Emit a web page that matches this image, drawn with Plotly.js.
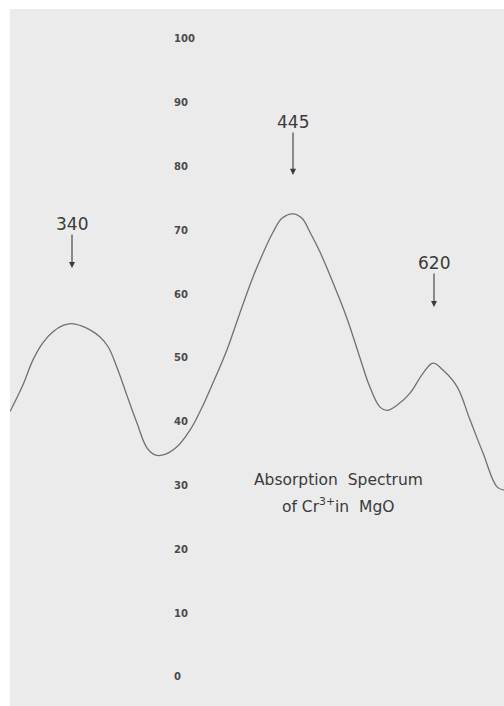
<!DOCTYPE html>
<html>
<head>
<meta charset="utf-8">
<script src="https://cdn.plot.ly/plotly-3.0.1.min.js"></script>
<style>
  html, body { margin: 0; padding: 0; background: #ffffff; }
  #chart { width: 504px; height: 706px; }
</style>
</head>
<body>
<div id="chart"></div>
<script>
// Chart-paper position (arbitrary recorder units) and absorption reading (%)
const chartPos = [10, 23, 33, 43, 53, 63, 72, 80, 90, 100, 108, 117, 127, 137, 147, 155, 163, 177, 190, 200,
                  213, 227, 240, 253, 263, 273, 282, 293, 302, 310, 320, 333, 347, 360, 370, 380, 387, 397,
                  410, 423, 433, 443, 457, 470, 483, 497, 504];
const absorption = [41.6, 45.8, 49.7, 52.4, 54.1, 55.1, 55.4, 55.1, 54.4, 53.3, 51.8, 48.5, 44.1, 39.8, 35.9, 34.8, 34.8, 36.1, 38.7, 41.6,
                    46.1, 51.3, 57.1, 62.7, 66.4, 69.7, 71.9, 72.6, 71.9, 69.7, 66.6, 61.8, 56.2, 50.0, 45.4, 42.3, 41.8, 42.6,
                    44.5, 47.6, 49.2, 48.1, 45.5, 40.3, 35.1, 29.8, 29.3];

// Peak markers (wavelengths in nm)
const peakLabels = ['340', '445', '620'];
const peakPos = [72, 293, 434];
const peakArrowTip = [64.1, 78.7, 58.0];

// Y-axis tick labels
const yTicks = [0, 10, 20, 30, 40, 50, 60, 70, 80, 90, 100];

const inkColor = '#3a3a3a';
const labelLift = [-44, -53, -44];   // pixel offset of each peak label above its arrow tip
const trace = {
  x: chartPos, y: absorption, type: 'scatter', mode: 'lines',
  line: { color: '#707070', width: 1.3, shape: 'spline', smoothing: 1.1 },
  hoverinfo: 'skip', showlegend: false
};

const annotations = [];
peakLabels.forEach((lab, i) => {
  annotations.push({
    x: peakPos[i], y: peakArrowTip[i], xref: 'x', yref: 'y', text: lab,
    showarrow: true, ax: 0, ay: labelLift[i], standoff: 0, borderpad: 0,
    arrowhead: 2, arrowsize: 1.1, arrowwidth: 1.1, arrowcolor: inkColor,
    font: { family: 'DejaVu Sans', size: 17, color: inkColor }
  });
});
annotations.push({
  x: 338, y: 30.9, xref: 'x', yref: 'y', text: 'Absorption  Spectrum', showarrow: false,
  font: { family: 'DejaVu Sans', size: 15.5, color: inkColor }
});
annotations.push({
  x: 338, y: 26.8, xref: 'x', yref: 'y', text: 'of Cr<sup>3+</sup>in  MgO', showarrow: false,
  font: { family: 'DejaVu Sans', size: 15.5, color: inkColor }
});

const layout = {
  width: 504, height: 706,
  margin: { l: 10, r: 0, t: 9, b: 0, pad: 0 },
  paper_bgcolor: '#ffffff',
  plot_bgcolor: '#ebebeb',
  xaxis: { range: [10, 504], visible: false, fixedrange: true },
  yaxis: {
    range: [-4.55, 104.7], side: 'right', anchor: 'free', position: 0.33,
    tickvals: yTicks, ticktext: yTicks.map(String), ticks: '', showline: false,
    showgrid: false, zeroline: false,
    tickfont: { family: 'DejaVu Sans', size: 10, color: '#4a4a4a', weight: 'bold' }
  },
  annotations: annotations,
  showlegend: false
};

Plotly.newPlot('chart', [trace], layout, { staticPlot: true, displayModeBar: false });
</script>
</body>
</html>
